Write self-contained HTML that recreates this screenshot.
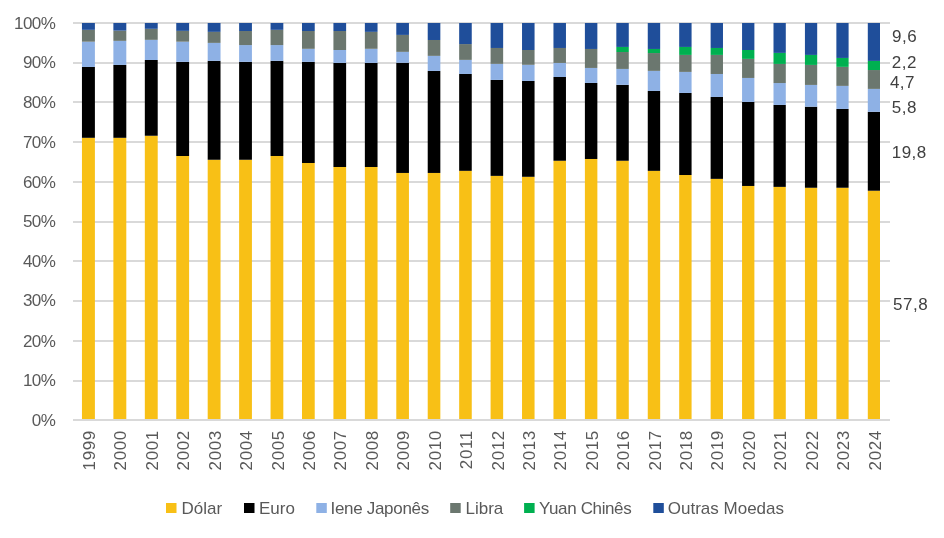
<!DOCTYPE html><html><head><meta charset="utf-8"><style>
html,body{margin:0;padding:0;background:#fff;}
body{width:944px;height:538px;overflow:hidden;position:relative;font-family:"Liberation Sans",sans-serif;}
svg{position:absolute;left:0;top:0;will-change:transform;}
</style></head><body>
<svg width="944" height="538" viewBox="0 0 944 538" font-family="Liberation Sans, sans-serif">
<rect x="0" y="0" width="944" height="538" fill="#fff"/>
<rect x="73" y="380" width="817" height="2" fill="#D9D9D9"/>
<rect x="73" y="340" width="817" height="2" fill="#D9D9D9"/>
<rect x="73" y="300" width="817" height="2" fill="#D9D9D9"/>
<rect x="73" y="260" width="817" height="2" fill="#D9D9D9"/>
<rect x="73" y="221" width="817" height="2" fill="#D9D9D9"/>
<rect x="73" y="181" width="817" height="2" fill="#D9D9D9"/>
<rect x="73" y="141" width="817" height="2" fill="#D9D9D9"/>
<rect x="73" y="101" width="817" height="2" fill="#D9D9D9"/>
<rect x="73" y="62" width="817" height="2" fill="#D9D9D9"/>
<rect x="73" y="22" width="817" height="2" fill="#D9D9D9"/>
<rect x="81.95" y="137.81" width="12.95" height="281.19" fill="#F8C016"/>
<rect x="81.95" y="66.95" width="12.95" height="70.86" fill="#000000"/>
<rect x="81.95" y="41.70" width="12.95" height="25.25" fill="#8EB1E5"/>
<rect x="81.95" y="29.83" width="12.95" height="11.87" fill="#6B776F"/>
<rect x="81.95" y="23.00" width="12.95" height="6.83" fill="#1F4E9A"/>
<rect x="113.38" y="137.81" width="12.92" height="281.19" fill="#F8C016"/>
<rect x="113.38" y="64.92" width="12.92" height="72.89" fill="#000000"/>
<rect x="113.38" y="40.87" width="12.92" height="24.06" fill="#8EB1E5"/>
<rect x="113.38" y="30.62" width="12.92" height="10.24" fill="#6B776F"/>
<rect x="113.38" y="23.00" width="12.92" height="7.62" fill="#1F4E9A"/>
<rect x="144.82" y="135.75" width="12.89" height="283.25" fill="#F8C016"/>
<rect x="144.82" y="60.00" width="12.89" height="75.75" fill="#000000"/>
<rect x="144.82" y="39.83" width="12.89" height="20.17" fill="#8EB1E5"/>
<rect x="144.82" y="28.80" width="12.89" height="11.04" fill="#6B776F"/>
<rect x="144.82" y="23.00" width="12.89" height="5.80" fill="#1F4E9A"/>
<rect x="176.25" y="156.00" width="12.86" height="263.00" fill="#F8C016"/>
<rect x="176.25" y="61.87" width="12.86" height="94.13" fill="#000000"/>
<rect x="176.25" y="41.70" width="12.86" height="20.17" fill="#8EB1E5"/>
<rect x="176.25" y="30.86" width="12.86" height="10.84" fill="#6B776F"/>
<rect x="176.25" y="23.00" width="12.86" height="7.86" fill="#1F4E9A"/>
<rect x="207.69" y="159.77" width="12.83" height="259.23" fill="#F8C016"/>
<rect x="207.69" y="60.83" width="12.83" height="98.93" fill="#000000"/>
<rect x="207.69" y="42.89" width="12.83" height="17.94" fill="#8EB1E5"/>
<rect x="207.69" y="31.85" width="12.83" height="11.04" fill="#6B776F"/>
<rect x="207.69" y="23.00" width="12.83" height="8.85" fill="#1F4E9A"/>
<rect x="239.12" y="159.77" width="12.80" height="259.23" fill="#F8C016"/>
<rect x="239.12" y="61.87" width="12.80" height="97.90" fill="#000000"/>
<rect x="239.12" y="45.07" width="12.80" height="16.79" fill="#8EB1E5"/>
<rect x="239.12" y="31.02" width="12.80" height="14.05" fill="#6B776F"/>
<rect x="239.12" y="23.00" width="12.80" height="8.02" fill="#1F4E9A"/>
<rect x="270.55" y="156.00" width="12.77" height="263.00" fill="#F8C016"/>
<rect x="270.55" y="60.83" width="12.77" height="95.16" fill="#000000"/>
<rect x="270.55" y="45.07" width="12.77" height="15.76" fill="#8EB1E5"/>
<rect x="270.55" y="29.83" width="12.77" height="15.24" fill="#6B776F"/>
<rect x="270.55" y="23.00" width="12.77" height="6.83" fill="#1F4E9A"/>
<rect x="301.99" y="162.98" width="12.74" height="256.02" fill="#F8C016"/>
<rect x="301.99" y="61.87" width="12.74" height="101.12" fill="#000000"/>
<rect x="301.99" y="48.81" width="12.74" height="13.06" fill="#8EB1E5"/>
<rect x="301.99" y="31.02" width="12.74" height="17.79" fill="#6B776F"/>
<rect x="301.99" y="23.00" width="12.74" height="8.02" fill="#1F4E9A"/>
<rect x="333.42" y="166.99" width="12.71" height="252.01" fill="#F8C016"/>
<rect x="333.42" y="62.90" width="12.71" height="104.09" fill="#000000"/>
<rect x="333.42" y="50.00" width="12.71" height="12.90" fill="#8EB1E5"/>
<rect x="333.42" y="31.02" width="12.71" height="18.98" fill="#6B776F"/>
<rect x="333.42" y="23.00" width="12.71" height="8.02" fill="#1F4E9A"/>
<rect x="364.86" y="166.99" width="12.68" height="252.01" fill="#F8C016"/>
<rect x="364.86" y="62.90" width="12.68" height="104.09" fill="#000000"/>
<rect x="364.86" y="48.81" width="12.68" height="14.09" fill="#8EB1E5"/>
<rect x="364.86" y="31.85" width="12.68" height="16.95" fill="#6B776F"/>
<rect x="364.86" y="23.00" width="12.68" height="8.85" fill="#1F4E9A"/>
<rect x="396.29" y="172.95" width="12.65" height="246.05" fill="#F8C016"/>
<rect x="396.29" y="62.78" width="12.65" height="110.17" fill="#000000"/>
<rect x="396.29" y="51.86" width="12.65" height="10.92" fill="#8EB1E5"/>
<rect x="396.29" y="34.91" width="12.65" height="16.95" fill="#6B776F"/>
<rect x="396.29" y="23.00" width="12.65" height="11.91" fill="#1F4E9A"/>
<rect x="427.72" y="172.95" width="12.62" height="246.05" fill="#F8C016"/>
<rect x="427.72" y="70.92" width="12.62" height="102.03" fill="#000000"/>
<rect x="427.72" y="55.87" width="12.62" height="15.05" fill="#8EB1E5"/>
<rect x="427.72" y="39.99" width="12.62" height="15.88" fill="#6B776F"/>
<rect x="427.72" y="23.00" width="12.62" height="16.99" fill="#1F4E9A"/>
<rect x="459.16" y="170.84" width="12.59" height="248.16" fill="#F8C016"/>
<rect x="459.16" y="73.97" width="12.59" height="96.87" fill="#000000"/>
<rect x="459.16" y="59.88" width="12.59" height="14.09" fill="#8EB1E5"/>
<rect x="459.16" y="44.08" width="12.59" height="15.80" fill="#6B776F"/>
<rect x="459.16" y="23.00" width="12.59" height="21.08" fill="#1F4E9A"/>
<rect x="490.59" y="175.88" width="12.56" height="243.12" fill="#F8C016"/>
<rect x="490.59" y="79.93" width="12.56" height="95.95" fill="#000000"/>
<rect x="490.59" y="63.85" width="12.56" height="16.08" fill="#8EB1E5"/>
<rect x="490.59" y="47.97" width="12.56" height="15.88" fill="#6B776F"/>
<rect x="490.59" y="23.00" width="12.56" height="24.97" fill="#1F4E9A"/>
<rect x="522.03" y="176.80" width="12.53" height="242.20" fill="#F8C016"/>
<rect x="522.03" y="80.92" width="12.53" height="95.88" fill="#000000"/>
<rect x="522.03" y="64.80" width="12.53" height="16.12" fill="#8EB1E5"/>
<rect x="522.03" y="50.00" width="12.53" height="14.81" fill="#6B776F"/>
<rect x="522.03" y="23.00" width="12.53" height="27.00" fill="#1F4E9A"/>
<rect x="553.46" y="160.76" width="12.50" height="258.24" fill="#F8C016"/>
<rect x="553.46" y="76.99" width="12.50" height="83.77" fill="#000000"/>
<rect x="553.46" y="62.94" width="12.50" height="14.05" fill="#8EB1E5"/>
<rect x="553.46" y="47.97" width="12.50" height="14.97" fill="#6B776F"/>
<rect x="553.46" y="23.00" width="12.50" height="24.97" fill="#1F4E9A"/>
<rect x="584.89" y="158.97" width="12.47" height="260.03" fill="#F8C016"/>
<rect x="584.89" y="82.95" width="12.47" height="76.03" fill="#000000"/>
<rect x="584.89" y="67.94" width="12.47" height="15.01" fill="#8EB1E5"/>
<rect x="584.89" y="48.96" width="12.47" height="18.98" fill="#6B776F"/>
<rect x="584.89" y="23.00" width="12.47" height="25.96" fill="#1F4E9A"/>
<rect x="616.33" y="160.76" width="12.44" height="258.24" fill="#F8C016"/>
<rect x="616.33" y="84.85" width="12.44" height="75.91" fill="#000000"/>
<rect x="616.33" y="68.93" width="12.44" height="15.92" fill="#8EB1E5"/>
<rect x="616.33" y="52.02" width="12.44" height="16.91" fill="#6B776F"/>
<rect x="616.33" y="46.94" width="12.44" height="5.08" fill="#00B050"/>
<rect x="616.33" y="23.00" width="12.44" height="23.94" fill="#1F4E9A"/>
<rect x="647.76" y="170.84" width="12.41" height="248.16" fill="#F8C016"/>
<rect x="647.76" y="90.93" width="12.41" height="79.92" fill="#000000"/>
<rect x="647.76" y="70.88" width="12.41" height="20.05" fill="#8EB1E5"/>
<rect x="647.76" y="53.05" width="12.41" height="17.83" fill="#6B776F"/>
<rect x="647.76" y="48.96" width="12.41" height="4.09" fill="#00B050"/>
<rect x="647.76" y="23.00" width="12.41" height="25.96" fill="#1F4E9A"/>
<rect x="679.20" y="175.01" width="12.38" height="243.99" fill="#F8C016"/>
<rect x="679.20" y="92.95" width="12.38" height="82.06" fill="#000000"/>
<rect x="679.20" y="71.91" width="12.38" height="21.04" fill="#8EB1E5"/>
<rect x="679.20" y="54.92" width="12.38" height="16.99" fill="#6B776F"/>
<rect x="679.20" y="46.94" width="12.38" height="7.98" fill="#00B050"/>
<rect x="679.20" y="23.00" width="12.38" height="23.94" fill="#1F4E9A"/>
<rect x="710.63" y="178.86" width="12.35" height="240.14" fill="#F8C016"/>
<rect x="710.63" y="96.96" width="12.35" height="81.90" fill="#000000"/>
<rect x="710.63" y="73.97" width="12.35" height="22.99" fill="#8EB1E5"/>
<rect x="710.63" y="54.92" width="12.35" height="19.06" fill="#6B776F"/>
<rect x="710.63" y="47.97" width="12.35" height="6.95" fill="#00B050"/>
<rect x="710.63" y="23.00" width="12.35" height="24.97" fill="#1F4E9A"/>
<rect x="742.06" y="185.97" width="12.32" height="233.03" fill="#F8C016"/>
<rect x="742.06" y="101.92" width="12.32" height="84.04" fill="#000000"/>
<rect x="742.06" y="77.94" width="12.32" height="23.98" fill="#8EB1E5"/>
<rect x="742.06" y="58.89" width="12.32" height="19.06" fill="#6B776F"/>
<rect x="742.06" y="50.00" width="12.32" height="8.89" fill="#00B050"/>
<rect x="742.06" y="23.00" width="12.32" height="27.00" fill="#1F4E9A"/>
<rect x="773.50" y="186.88" width="12.29" height="232.12" fill="#F8C016"/>
<rect x="773.50" y="104.94" width="12.29" height="81.94" fill="#000000"/>
<rect x="773.50" y="83.03" width="12.29" height="21.91" fill="#8EB1E5"/>
<rect x="773.50" y="63.93" width="12.29" height="19.10" fill="#6B776F"/>
<rect x="773.50" y="52.89" width="12.29" height="11.04" fill="#00B050"/>
<rect x="773.50" y="23.00" width="12.29" height="29.89" fill="#1F4E9A"/>
<rect x="804.93" y="187.75" width="12.26" height="231.25" fill="#F8C016"/>
<rect x="804.93" y="106.69" width="12.26" height="81.07" fill="#000000"/>
<rect x="804.93" y="84.93" width="12.26" height="21.76" fill="#8EB1E5"/>
<rect x="804.93" y="64.92" width="12.26" height="20.01" fill="#6B776F"/>
<rect x="804.93" y="54.92" width="12.26" height="10.00" fill="#00B050"/>
<rect x="804.93" y="23.00" width="12.26" height="31.92" fill="#1F4E9A"/>
<rect x="836.37" y="187.75" width="12.23" height="231.25" fill="#F8C016"/>
<rect x="836.37" y="108.95" width="12.23" height="78.80" fill="#000000"/>
<rect x="836.37" y="85.88" width="12.23" height="23.07" fill="#8EB1E5"/>
<rect x="836.37" y="66.87" width="12.23" height="19.02" fill="#6B776F"/>
<rect x="836.37" y="57.94" width="12.23" height="8.93" fill="#00B050"/>
<rect x="836.37" y="23.00" width="12.23" height="34.94" fill="#1F4E9A"/>
<rect x="867.80" y="190.73" width="12.20" height="228.27" fill="#F8C016"/>
<rect x="867.80" y="111.81" width="12.20" height="78.92" fill="#000000"/>
<rect x="867.80" y="88.90" width="12.20" height="22.91" fill="#8EB1E5"/>
<rect x="867.80" y="70.04" width="12.20" height="18.86" fill="#6B776F"/>
<rect x="867.80" y="60.91" width="12.20" height="9.13" fill="#00B050"/>
<rect x="867.80" y="23.00" width="12.20" height="37.91" fill="#1F4E9A"/>
<rect x="73" y="419" width="817" height="2" fill="#D9D9D9"/>
<text x="55.2" y="426" font-size="17" letter-spacing="-0.6" fill="#595959" text-anchor="end">0%</text>
<text x="55.2" y="386" font-size="17" letter-spacing="-0.6" fill="#595959" text-anchor="end">10%</text>
<text x="55.2" y="347" font-size="17" letter-spacing="-0.6" fill="#595959" text-anchor="end">20%</text>
<text x="55.2" y="306.4" font-size="17" letter-spacing="-0.6" fill="#595959" text-anchor="end">30%</text>
<text x="55.2" y="267" font-size="17" letter-spacing="-0.6" fill="#595959" text-anchor="end">40%</text>
<text x="55.2" y="227" font-size="17" letter-spacing="-0.6" fill="#595959" text-anchor="end">50%</text>
<text x="55.2" y="188" font-size="17" letter-spacing="-0.6" fill="#595959" text-anchor="end">60%</text>
<text x="55.2" y="148" font-size="17" letter-spacing="-0.6" fill="#595959" text-anchor="end">70%</text>
<text x="55.2" y="108.4" font-size="17" letter-spacing="-0.6" fill="#595959" text-anchor="end">80%</text>
<text x="55.2" y="67.8" font-size="17" letter-spacing="-0.6" fill="#595959" text-anchor="end">90%</text>
<text x="55.2" y="29.2" font-size="17" letter-spacing="-0.6" fill="#595959" text-anchor="end">100%</text>
<text transform="translate(95.01,430.2) rotate(-90)" font-size="17" letter-spacing="0.6" fill="#595959" text-anchor="end">1999</text>
<text transform="translate(126.43,430.2) rotate(-90)" font-size="17" letter-spacing="0.6" fill="#595959" text-anchor="end">2000</text>
<text transform="translate(157.86,430.2) rotate(-90)" font-size="17" letter-spacing="0.6" fill="#595959" text-anchor="end">2001</text>
<text transform="translate(189.28,430.2) rotate(-90)" font-size="17" letter-spacing="0.6" fill="#595959" text-anchor="end">2002</text>
<text transform="translate(220.70,430.2) rotate(-90)" font-size="17" letter-spacing="0.6" fill="#595959" text-anchor="end">2003</text>
<text transform="translate(252.13,430.2) rotate(-90)" font-size="17" letter-spacing="0.6" fill="#595959" text-anchor="end">2004</text>
<text transform="translate(283.55,430.2) rotate(-90)" font-size="17" letter-spacing="0.6" fill="#595959" text-anchor="end">2005</text>
<text transform="translate(314.97,430.2) rotate(-90)" font-size="17" letter-spacing="0.6" fill="#595959" text-anchor="end">2006</text>
<text transform="translate(346.40,430.2) rotate(-90)" font-size="17" letter-spacing="0.6" fill="#595959" text-anchor="end">2007</text>
<text transform="translate(377.82,430.2) rotate(-90)" font-size="17" letter-spacing="0.6" fill="#595959" text-anchor="end">2008</text>
<text transform="translate(409.24,430.2) rotate(-90)" font-size="17" letter-spacing="0.6" fill="#595959" text-anchor="end">2009</text>
<text transform="translate(440.67,430.2) rotate(-90)" font-size="17" letter-spacing="0.6" fill="#595959" text-anchor="end">2010</text>
<text transform="translate(472.09,430.2) rotate(-90)" font-size="17" letter-spacing="0.6" fill="#595959" text-anchor="end">2011</text>
<text transform="translate(503.51,430.2) rotate(-90)" font-size="17" letter-spacing="0.6" fill="#595959" text-anchor="end">2012</text>
<text transform="translate(534.93,430.2) rotate(-90)" font-size="17" letter-spacing="0.6" fill="#595959" text-anchor="end">2013</text>
<text transform="translate(566.36,430.2) rotate(-90)" font-size="17" letter-spacing="0.6" fill="#595959" text-anchor="end">2014</text>
<text transform="translate(597.78,430.2) rotate(-90)" font-size="17" letter-spacing="0.6" fill="#595959" text-anchor="end">2015</text>
<text transform="translate(629.20,430.2) rotate(-90)" font-size="17" letter-spacing="0.6" fill="#595959" text-anchor="end">2016</text>
<text transform="translate(660.63,430.2) rotate(-90)" font-size="17" letter-spacing="0.6" fill="#595959" text-anchor="end">2017</text>
<text transform="translate(692.05,430.2) rotate(-90)" font-size="17" letter-spacing="0.6" fill="#595959" text-anchor="end">2018</text>
<text transform="translate(723.47,430.2) rotate(-90)" font-size="17" letter-spacing="0.6" fill="#595959" text-anchor="end">2019</text>
<text transform="translate(754.90,430.2) rotate(-90)" font-size="17" letter-spacing="0.6" fill="#595959" text-anchor="end">2020</text>
<text transform="translate(786.32,430.2) rotate(-90)" font-size="17" letter-spacing="0.6" fill="#595959" text-anchor="end">2021</text>
<text transform="translate(817.74,430.2) rotate(-90)" font-size="17" letter-spacing="0.6" fill="#595959" text-anchor="end">2022</text>
<text transform="translate(849.17,430.2) rotate(-90)" font-size="17" letter-spacing="0.6" fill="#595959" text-anchor="end">2023</text>
<text transform="translate(880.59,430.2) rotate(-90)" font-size="17" letter-spacing="0.6" fill="#595959" text-anchor="end">2024</text>
<text x="892.00" y="41.80" font-size="17" letter-spacing="0.5" fill="#404040">9,6</text>
<text x="891.80" y="68.00" font-size="17" letter-spacing="0.5" fill="#404040">2,2</text>
<text x="889.90" y="87.90" font-size="17" letter-spacing="0.5" fill="#404040">4,7</text>
<text x="891.80" y="113.00" font-size="17" letter-spacing="0.5" fill="#404040">5,8</text>
<text x="891.70" y="158.10" font-size="17" letter-spacing="0.5" fill="#404040">19,8</text>
<text x="893.10" y="310.10" font-size="17" letter-spacing="0.5" fill="#404040">57,8</text>
<rect x="166" y="503" width="10.5" height="10" fill="#F8C016"/>
<text x="181.5" y="513.6" font-size="17" fill="#595959">Dólar</text>
<rect x="244" y="503" width="10.5" height="10" fill="#000000"/>
<text x="259.0" y="513.6" font-size="17" fill="#595959">Euro</text>
<rect x="316.3" y="503" width="10.5" height="10" fill="#8EB1E5"/>
<text x="330.5" y="513.6" font-size="17" letter-spacing="-0.31" fill="#595959">Iene Japonês</text>
<rect x="450.2" y="503" width="10.5" height="10" fill="#6B776F"/>
<text x="465.5" y="513.6" font-size="17" fill="#595959">Libra</text>
<rect x="524.1" y="503" width="10.5" height="10" fill="#00B050"/>
<text x="539.0" y="513.6" font-size="17" letter-spacing="-0.37" fill="#595959">Yuan Chinês</text>
<rect x="653.3" y="503" width="10.5" height="10" fill="#1F4E9A"/>
<text x="667.8" y="513.6" font-size="17" fill="#595959">Outras Moedas</text>
</svg></body></html>
